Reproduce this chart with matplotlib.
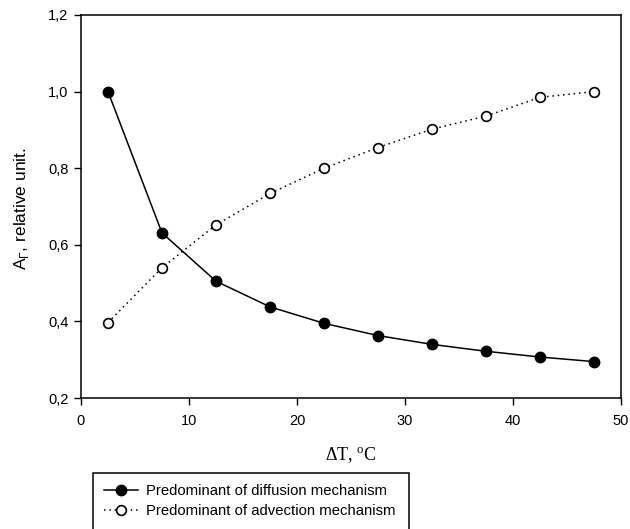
import matplotlib
matplotlib.use("Agg")
import matplotlib.pyplot as plt
from matplotlib.patches import Rectangle

plt.rcParams['font.family'] = ['Liberation Sans', 'DejaVu Sans']

delta_t = [2.5, 7.5, 12.5, 17.5, 22.5, 27.5, 32.5, 37.5, 42.5, 47.5]
diffusion = [1.0, 0.631, 0.505, 0.438, 0.395, 0.363, 0.340, 0.322, 0.307, 0.295]
advection = [0.397, 0.540, 0.652, 0.734, 0.800, 0.854, 0.902, 0.936, 0.985, 1.0]

x_ticks = [0, 10, 20, 30, 40, 50]
y_ticks = [0.2, 0.4, 0.6, 0.8, 1.0, 1.2]
y_tick_labels = ['0,2', '0,4', '0,6', '0,8', '1,0', '1,2']

W, H = 630, 529
fig = plt.figure(figsize=(W / 100, H / 100), dpi=100)
ax = fig.add_axes([81 / W, 1 - 398 / H, (621 - 81) / W, (398 - 15) / H])

l1, = ax.plot(delta_t, diffusion, color='black', lw=1.1, ls='-',
              marker='o', ms=7.5, mfc='black', mec='black',
              label='Predominant of diffusion mechanism')
l2, = ax.plot(delta_t, advection, color='black', lw=1.1, ls=(0, (1, 2.5)),
              marker='o', ms=7, mfc='white', mec='black', mew=1.2,
              label='Predominant of advection mechanism')

ax.set_xlim(0, 50)
ax.set_ylim(0.2, 1.2)
ax.set_xticks(x_ticks)
ax.set_yticks(y_ticks)
ax.set_yticklabels(y_tick_labels)
ax.tick_params(direction='out', length=5, width=1, labelsize=10.5)
ax.tick_params(axis='x', pad=6.5)
ax.tick_params(axis='y', pad=4)
for s in ax.spines.values():
    s.set_linewidth(1.1)

ax.set_xlabel('ΔT, $^{\\mathregular{o}}$C', family='Liberation Serif', fontsize=13)
ax.xaxis.set_label_coords(0.5, (398 - 446) / 383)
ax.set_ylabel('A$_{\\mathregular{Γ}}$, relative unit.', fontsize=12.5)
ax.yaxis.set_label_coords((31 - 81) / 540, (398 - 209) / 383)

# Legend box running off the bottom edge
fig.patches.append(Rectangle((93 / W, -0.05), (409 - 93) / W, (1 - 473 / H) + 0.05,
                             transform=fig.transFigure, fill=False,
                             edgecolor='black', lw=1.1))
fig.legend(handles=[l1, l2], loc='upper left',
           bbox_to_anchor=(104 / W, 1 - 484 / H), frameon=False,
           fontsize=10.7, handlelength=2.3, handletextpad=0.55,
           labelspacing=0.4, borderaxespad=0, borderpad=0)

fig.savefig('out.png', dpi=100)
